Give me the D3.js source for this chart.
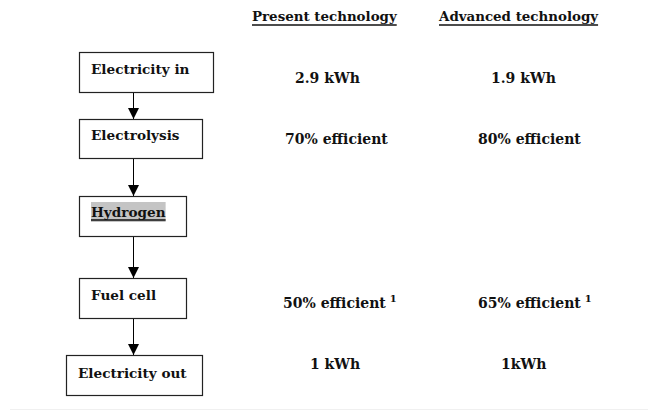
<!DOCTYPE html>
<html>
<head>
<meta charset="utf-8">
<script src="https://cdn.jsdelivr.net/npm/d3@7"></script>
<style>
  html, body { margin: 0; padding: 0; background: #fff; }
  svg { display: block; }
  text { font-family: "DejaVu Serif", "Liberation Serif", serif; font-weight: bold; fill: #111; }
</style>
</head>
<body>
<script>
// ---- data ----
const steps = ["Electricity in", "Electrolysis", "Hydrogen", "Fuel cell", "Electricity out"];
const columns = ["Present technology", "Advanced technology"];
const presentValues = ["2.9 kWh", "70% efficient", "", "50% efficient", "1 kWh"];
const advancedValues = ["1.9 kWh", "80% efficient", "", "65% efficient", "1kWh"];
const footnotes = ["", "", "", "1", ""];

// ---- layout (positions/sizes kept separate from data) ----
const W = 648, H = 412;
const boxes = [
  {x0: 79, x1: 213, y0: 52, y1: 92, tx: 91, base: 74},
  {x0: 79, x1: 202, y0: 119, y1: 158, tx: 91, base: 140},
  {x0: 79, x1: 186, y0: 196, y1: 236, tx: 91, base: 217},
  {x0: 79, x1: 186, y0: 278, y1: 318, tx: 91, base: 300},
  {x0: 66, x1: 202, y0: 355, y1: 395, tx: 78, base: 378}
];
const arrowX = 133;
const valueBase = [83, 144, null, 308, 369];
const valueX = [
  [295, 285, null, 283, 310],
  [491, 478, null, 478, 501]
];
const headerX = [252, 439];
const headerBase = 21;

const svg = d3.select("body").append("svg").attr("width", W).attr("height", H);

// faint page edge line at bottom
svg.append("line").attr("x1", 10).attr("x2", W).attr("y1", 409.5).attr("y2", 409.5)
  .attr("stroke", "#f0f0f0").attr("stroke-width", 1);

// arrow marker
svg.append("defs").append("marker")
  .attr("id", "ah").attr("viewBox", "0 0 10 10").attr("refX", 10).attr("refY", 5)
  .attr("markerWidth", 11).attr("markerHeight", 11).attr("markerUnits", "userSpaceOnUse")
  .attr("orient", "auto")
  .append("path").attr("d", "M0,0 L10,5 L0,10 Z").attr("fill", "#000");

// arrows between boxes
const links = d3.pairs(boxes);
svg.selectAll("line.arrow").data(links).join("line")
  .attr("class", "arrow")
  .attr("x1", arrowX + 0.5).attr("x2", arrowX + 0.5)
  .attr("y1", d => d[0].y1).attr("y2", d => d[1].y0)
  .attr("stroke", "#000").attr("stroke-width", 1)
  .attr("marker-end", "url(#ah)");

// boxes
svg.selectAll("rect.box").data(steps).join("rect")
  .attr("class", "box")
  .attr("x", (d, i) => boxes[i].x0 + 0.5).attr("y", (d, i) => boxes[i].y0 + 0.5)
  .attr("width", (d, i) => boxes[i].x1 - boxes[i].x0).attr("height", (d, i) => boxes[i].y1 - boxes[i].y0)
  .attr("fill", "#fff").attr("stroke", "#222").attr("stroke-width", 1.2);

// Hydrogen highlight (behind its text)
const hIdx = steps.indexOf("Hydrogen");
const hl = svg.append("rect").attr("fill", "#c4c4c4");

const labels = svg.selectAll("text.step").data(steps).join("text")
  .attr("class", "step")
  .attr("x", (d, i) => boxes[i].tx).attr("y", (d, i) => boxes[i].base)
  .attr("font-size", 13.6)
  .text(d => d);

// highlight + underline for Hydrogen
const hNode = labels.filter((d, i) => i === hIdx).node();
const hb = hNode.getBBox();
hl.attr("x", hb.x).attr("y", boxes[hIdx].base - 15).attr("width", hb.width).attr("height", 20);
svg.append("line")
  .attr("x1", hb.x).attr("x2", hb.x + hb.width)
  .attr("y1", boxes[hIdx].base + 3).attr("y2", boxes[hIdx].base + 3)
  .attr("stroke", "#111").attr("stroke-width", 1.5);

// column headers, underlined
columns.forEach((c, ci) => {
  const t = svg.append("text").attr("x", headerX[ci]).attr("y", headerBase)
    .attr("font-size", 13.4).text(c);
  const w = t.node().getComputedTextLength();
  svg.append("line").attr("x1", headerX[ci]).attr("x2", headerX[ci] + w)
    .attr("y1", headerBase + 4).attr("y2", headerBase + 4)
    .attr("stroke", "#111").attr("stroke-width", 1.5);
});

// values
[presentValues, advancedValues].forEach((vals, ci) => {
  vals.forEach((v, ri) => {
    if (!v) return;
    const t = svg.append("text").attr("x", valueX[ci][ri]).attr("y", valueBase[ri])
      .attr("font-size", 14).text(v);
    if (footnotes[ri]) {
      t.append("tspan").attr("dx", 4).attr("dy", -6).attr("font-size", 10).text(footnotes[ri]);
    }
  });
});
</script>
</body>
</html>
